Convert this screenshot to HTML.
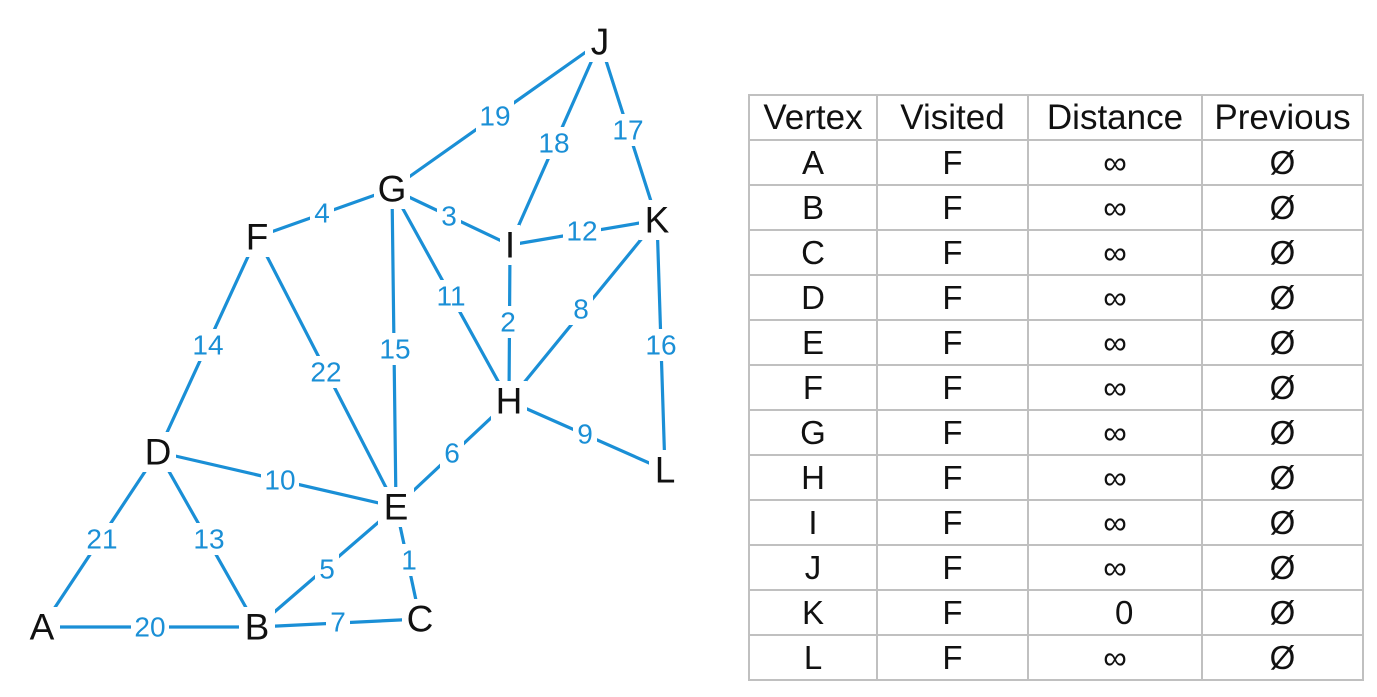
<!DOCTYPE html>
<html><head><style>
body{margin:0;width:1377px;height:697px;background:#fff;overflow:hidden;position:relative;font-family:"Liberation Sans",sans-serif}
svg{position:absolute;left:0;top:0}
table{position:absolute;left:748px;top:94px;border-collapse:collapse;font-family:"Liberation Sans",sans-serif}
td{border:2px solid #c0c0c0;height:43px;padding:0;text-align:center;font-size:33px;color:#111;line-height:43px}
td.h{font-size:35px}
</style></head><body>
<svg width="700" height="697" style="font-family:'Liberation Sans',sans-serif">
<g stroke="#1a8fd6" stroke-width="3.2" stroke-linecap="round">
<line x1="600" y1="42" x2="392" y2="189"/>
<line x1="600" y1="42" x2="510" y2="245"/>
<line x1="600" y1="42" x2="657" y2="220"/>
<line x1="392" y1="189" x2="257" y2="237"/>
<line x1="392" y1="189" x2="510" y2="245"/>
<line x1="510" y1="245" x2="657" y2="220"/>
<line x1="392" y1="189" x2="509" y2="401"/>
<line x1="510" y1="245" x2="509" y2="401"/>
<line x1="657" y1="220" x2="509" y2="401"/>
<line x1="657" y1="220" x2="665" y2="470"/>
<line x1="257" y1="237" x2="158" y2="452"/>
<line x1="257" y1="237" x2="396" y2="507"/>
<line x1="392" y1="189" x2="396" y2="507"/>
<line x1="509" y1="401" x2="396" y2="507"/>
<line x1="509" y1="401" x2="665" y2="470"/>
<line x1="158" y1="452" x2="396" y2="507"/>
<line x1="158" y1="452" x2="42" y2="627"/>
<line x1="158" y1="452" x2="257" y2="627"/>
<line x1="396" y1="507" x2="257" y2="627"/>
<line x1="396" y1="507" x2="420" y2="619"/>
<line x1="42" y1="627" x2="257" y2="627"/>
<line x1="257" y1="627" x2="420" y2="619"/>
</g>
<g fill="#fff">
<rect x="476" y="100" width="38" height="32"/><rect x="535" y="127" width="38" height="32"/><rect x="609" y="114" width="38" height="32"/>
<rect x="310" y="197" width="24" height="32"/><rect x="437" y="200" width="24" height="32"/><rect x="563" y="215" width="38" height="32"/>
<rect x="432" y="280" width="38" height="32"/><rect x="496" y="306" width="24" height="32"/><rect x="569" y="293" width="24" height="32"/>
<rect x="642" y="329" width="38" height="32"/><rect x="189" y="329" width="38" height="32"/><rect x="307" y="356" width="38" height="32"/>
<rect x="376" y="333" width="38" height="32"/><rect x="440" y="437" width="24" height="32"/><rect x="573" y="418" width="24" height="32"/>
<rect x="261" y="464" width="38" height="32"/><rect x="83" y="523" width="38" height="32"/><rect x="190" y="523" width="38" height="32"/>
<rect x="315" y="553" width="24" height="32"/><rect x="399" y="544" width="20" height="32"/><rect x="131" y="611" width="38" height="32"/>
<rect x="326" y="606" width="24" height="32"/>
<rect x="24" y="607" width="36" height="40"/><rect x="239" y="607" width="36" height="40"/><rect x="402" y="599" width="36" height="40"/>
<rect x="140" y="432" width="36" height="40"/><rect x="378" y="487" width="36" height="40"/><rect x="241" y="217" width="32" height="40"/>
<rect x="374" y="169" width="36" height="40"/><rect x="491" y="381" width="36" height="40"/><rect x="500" y="225" width="20" height="40"/>
<rect x="585" y="22" width="30" height="40"/><rect x="639" y="200" width="36" height="40"/><rect x="649" y="450" width="32" height="40"/>
</g>
<g fill="#1a8fd6" font-size="28" text-anchor="middle" dominant-baseline="central">
<text x="495" y="116">19</text><text x="554" y="143">18</text><text x="628" y="130">17</text>
<text x="322" y="213">4</text><text x="449" y="216">3</text><text x="582" y="231">12</text>
<text x="451" y="296">11</text><text x="508" y="322">2</text><text x="581" y="309">8</text>
<text x="661" y="345">16</text><text x="208" y="345">14</text><text x="326" y="372">22</text>
<text x="395" y="349">15</text><text x="452" y="453">6</text><text x="585" y="434">9</text>
<text x="280" y="480">10</text><text x="102" y="539">21</text><text x="209" y="539">13</text>
<text x="327" y="569">5</text><text x="409" y="560">1</text><text x="150" y="627">20</text>
<text x="338" y="622">7</text>
</g>
<g fill="#111" font-size="37" text-anchor="middle" dominant-baseline="central">
<text x="42" y="627">A</text><text x="257" y="627">B</text><text x="420" y="619">C</text>
<text x="158" y="452">D</text><text x="396" y="507">E</text><text x="257" y="237">F</text>
<text x="392" y="189">G</text><text x="509" y="401">H</text><text x="510" y="245">I</text>
<text x="600" y="42">J</text><text x="657" y="220">K</text><text x="665" y="470">L</text>
</g>
</svg>
<table>
<tr><td class="h" style="width:126px">Vertex</td><td class="h" style="width:149px">Visited</td><td class="h" style="width:172px">Distance</td><td class="h" style="width:159px">Previous</td></tr>
<tr><td>A</td><td>F</td><td>∞</td><td>Ø</td></tr>
<tr><td>B</td><td>F</td><td>∞</td><td>Ø</td></tr>
<tr><td>C</td><td>F</td><td>∞</td><td>Ø</td></tr>
<tr><td>D</td><td>F</td><td>∞</td><td>Ø</td></tr>
<tr><td>E</td><td>F</td><td>∞</td><td>Ø</td></tr>
<tr><td>F</td><td>F</td><td>∞</td><td>Ø</td></tr>
<tr><td>G</td><td>F</td><td>∞</td><td>Ø</td></tr>
<tr><td>H</td><td>F</td><td>∞</td><td>Ø</td></tr>
<tr><td>I</td><td>F</td><td>∞</td><td>Ø</td></tr>
<tr><td>J</td><td>F</td><td>∞</td><td>Ø</td></tr>
<tr><td>K</td><td>F</td><td>&nbsp;&nbsp;0</td><td>Ø</td></tr>
<tr><td>L</td><td>F</td><td>∞</td><td>Ø</td></tr>
</table>
</body></html>
